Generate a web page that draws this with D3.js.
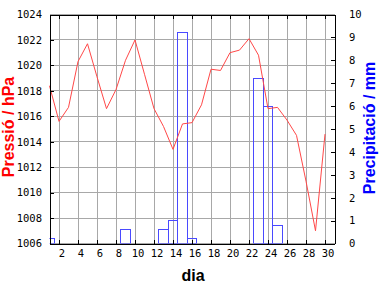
<!DOCTYPE html>
<html>
<head>
<meta charset="utf-8">
<script src="https://cdn.jsdelivr.net/npm/d3@7"></script>
<style>
  body { margin: 0; background: #fff; }
  .tick text { font-family: "DejaVu Sans Mono", monospace; font-size: 10.5px; fill: #000; }
  .title { font-family: "Liberation Sans", Arial, sans-serif; font-size: 16px; font-weight: bold; }
</style>
</head>
<body>
<script>

// days of the month
var days = d3.range(1, 31);

// pressure per day, hPa
var pressure = [1018.4, 1015.6, 1016.7, 1020.3, 1021.7, 1019.1, 1016.6, 1018.1, 1020.4, 1022.0,
                1019.3, 1016.6, 1015.2, 1013.4, 1015.4, 1015.5, 1016.9, 1019.7, 1019.6, 1021.0,
                1021.2, 1022.1, 1020.8, 1016.6, 1016.7, 1015.7, 1014.5, 1010.9, 1007.0, 1014.6];

// precipitation per day, mm
var precip = [0.22, 0, 0, 0, 0, 0, 0, 0, 0.6, 0,
              0, 0, 0.6, 1.0, 9.2, 0.2, 0, 0, 0, 0,
              0, 0, 7.2, 6.0, 0.8, 0, 0, 0, 0, 0];

// tick labels
var dayTicks = d3.range(2, 31, 2);
var pressureTicks = d3.range(1006, 1025, 2);
var precipTicks = d3.range(0, 11, 1);

var width = 384,
    height = 288;

// plot area edges (half pixels so 1px lines stay sharp)
var plotLeft = 49.5, plotRight = 334.5, plotTop = 14.5, plotBottom = 243.5;

var svg = d3.select("body").append("svg")
    .attr("width", width)
    .attr("height", height);

var x = d3.scaleLinear().domain([1, 31]).range([plotLeft, plotRight]);
var yP = d3.scaleLinear().domain([1006, 1024]).range([plotBottom, plotTop]);
var yR = d3.scaleLinear().domain([0, 10]).range([plotBottom, plotTop]);

svg.append("defs").append("clipPath")
    .attr("id", "plot-clip")
  .append("rect")
    .attr("x", plotLeft)
    .attr("y", plotTop - 1)
    .attr("width", plotRight - plotLeft)
    .attr("height", plotBottom - plotTop + 1);

// grid lines
var grid = svg.append("g")
    .attr("stroke", "#a8a8a8")
    .attr("shape-rendering", "crispEdges");

grid.selectAll(".vgrid")
    .data(dayTicks)
    .enter().append("line")
    .attr("x1", function(d) { return x(d); })
    .attr("x2", function(d) { return x(d); })
    .attr("y1", plotTop)
    .attr("y2", plotBottom);

grid.selectAll(".hgrid")
    .data(pressureTicks)
    .enter().append("line")
    .attr("x1", plotLeft)
    .attr("x2", plotRight)
    .attr("y1", function(d) { return yP(d); })
    .attr("y2", function(d) { return yP(d); });

// precipitation bars, outline only
svg.append("g")
    .attr("clip-path", "url(#plot-clip)")
    .selectAll("rect")
    .data(days.filter(function(d, i) { return precip[i] > 0; }))
    .enter().append("rect")
    .attr("x", function(d) { return x(d - 0.5); })
    .attr("width", function(d) { return x(d + 0.5) - x(d - 0.5); })
    .attr("y", function(d) { return yR(precip[d - 1]); })
    .attr("height", function(d) { return plotBottom - yR(precip[d - 1]); })
    .attr("fill", "none")
    .attr("stroke", "#4a4aff")
    .attr("shape-rendering", "crispEdges");

// pressure line
var line = d3.line()
    .x(function(d) { return x(d); })
    .y(function(d) { return yP(pressure[d - 1]); });

svg.append("path")
    .datum(days)
    .attr("d", line)
    .attr("fill", "none")
    .attr("stroke", "#ff4848")
    .attr("stroke-width", 1);

// axes, ticks pointing inward
svg.append("g")
    .attr("transform", "translate(0," + plotBottom + ")")
    .call(d3.axisBottom(x).tickValues(dayTicks).tickSize(-4).tickSizeOuter(0).tickPadding(6.5))
    .selectAll(".tick text").attr("dx", 2.5);

svg.append("g")
    .attr("transform", "translate(0," + plotTop + ")")
    .call(d3.axisTop(x).tickValues(dayTicks).tickSize(-4).tickSizeOuter(0).tickFormat(""));

svg.append("g")
    .attr("transform", "translate(" + plotLeft + ",0)")
    .call(d3.axisLeft(yP).tickValues(pressureTicks).tickSize(-4).tickSizeOuter(0).tickPadding(7.5).tickFormat(d3.format("d")));

svg.append("g")
    .attr("transform", "translate(" + plotRight + ",0)")
    .call(d3.axisRight(yR).tickValues(precipTicks).tickSize(-3.5).tickSizeOuter(0).tickPadding(14.5).tickFormat(d3.format("d")));

svg.selectAll(".domain, .tick line")
    .attr("stroke", "#000")
    .attr("shape-rendering", "crispEdges");

// axis titles
svg.append("text")
    .attr("class", "title")
    .attr("transform", "translate(14,127) rotate(-90)")
    .attr("text-anchor", "middle")
    .attr("fill", "#ff0000")
    .text("Pressió / hPa");

svg.append("text")
    .attr("class", "title")
    .attr("transform", "translate(375,128) rotate(-90)")
    .attr("text-anchor", "middle")
    .attr("fill", "#0000ff")
    .text("Precipitació / mm");

svg.append("text")
    .attr("class", "title")
    .attr("x", 193)
    .attr("y", 281)
    .attr("text-anchor", "middle")
    .attr("fill", "#000")
    .text("dia");

</script>
</body>
</html>
